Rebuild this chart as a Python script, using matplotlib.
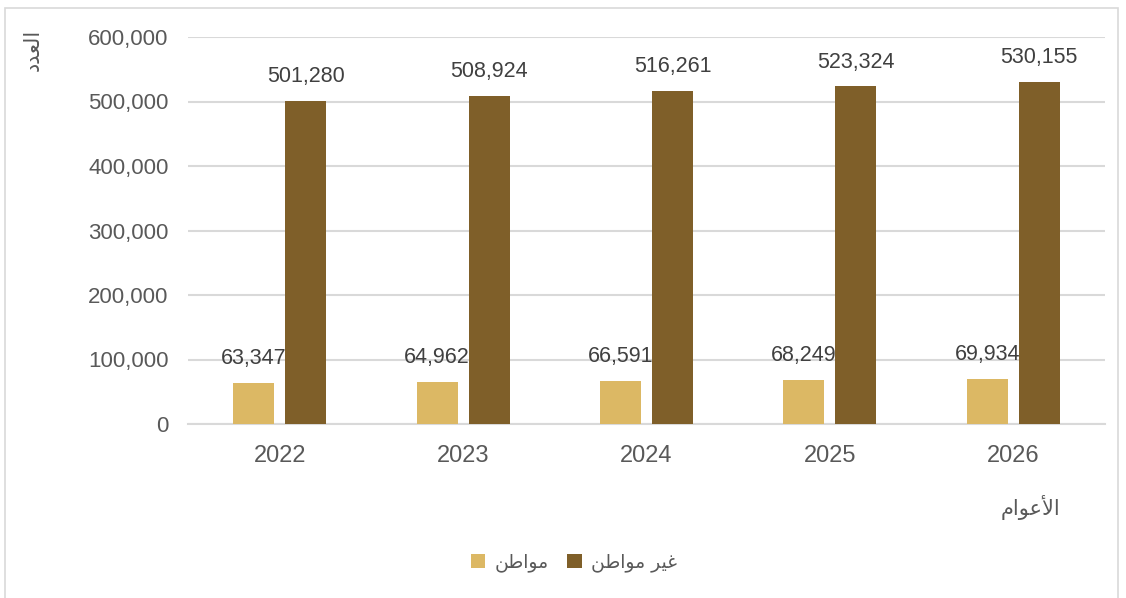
import matplotlib
matplotlib.use("Agg")
import matplotlib.pyplot as plt
from matplotlib.patches import Rectangle
import numpy as np

plt.rcParams['font.family'] = ['Liberation Sans', 'DejaVu Sans']

years = ['2022', '2023', '2024', '2025', '2026']
citizens = [63347, 64962, 66591, 68249, 69934]
non_citizens = [501280, 508924, 516261, 523324, 530155]
yticks = [0, 100000, 200000, 300000, 400000, 500000, 600000]

# Arabic labels in visual (shaped, left-to-right) order
lbl_citizen = '\ufee6\ufec3\ufe8d\ufeee\ufee3'          # مواطن
lbl_noncitizen = '\ufee6\ufec3\ufe8d\ufeee\ufee3 \ufeae\ufef4\ufecf'  # غير مواطن
lbl_x = '\ufee1\ufe8d\ufeee\ufecb\ufef7\ufe8d'           # الأعوام
lbl_y = '\ufea9\ufeaa\ufecc\ufedf\ufe8d'                 # العدد

c_light = '#DCB864'
c_dark = '#7F5F29'
txt = '#404040'
tick_c = '#595959'

fig = plt.figure(figsize=(11.26, 5.98), dpi=100)
ax = fig.add_axes([188/1126, 1-424/598, (1105-188)/1126, (424-37)/598])

x = np.arange(len(years))
w = 0.224
off = 0.142
b1 = ax.bar(x - off, citizens, w, color=c_light, zorder=3, label=lbl_citizen)
b2 = ax.bar(x + off, non_citizens, w, color=c_dark, zorder=3, label=lbl_noncitizen)

for rect, v in zip(b1, citizens):
    ax.annotate(f'{v:,}', (rect.get_x() + rect.get_width()/2, v), xytext=(0, 10),
                textcoords='offset points', ha='center', va='bottom', fontsize=15.5, color=txt, zorder=2)
for rect, v in zip(b2, non_citizens):
    ax.annotate(f'{v:,}', (rect.get_x() + rect.get_width()/2, v), xytext=(0, 10),
                textcoords='offset points', ha='center', va='bottom', fontsize=15.5, color=txt, zorder=4)

ax.set_xlim(-0.5, len(years) - 0.5)
ax.set_ylim(0, 600000)
ax.set_yticks(yticks)
ax.set_yticklabels([f'{v:,}' for v in yticks], fontsize=16, color=tick_c)
ax.set_xticks(x)
ax.set_xticklabels(years, fontsize=17, color=tick_c)
ax.tick_params(axis='both', length=0)
ax.tick_params(axis='x', pad=15)
ax.tick_params(axis='y', pad=14)
ax.yaxis.grid(True, color='#d9d9d9', linewidth=1.5, zorder=0)
for s in ['top', 'right', 'left']:
    ax.spines[s].set_visible(False)
ax.spines['bottom'].set_color('#d9d9d9')
ax.spines['bottom'].set_linewidth(1.5)

fig.text(1030/1126, 1-507/598, lbl_x, ha='center', va='center', fontsize=15, color=tick_c,
         family=['DejaVu Sans'])
fig.text(33/1126, 1-50/598, lbl_y, ha='center', va='center', fontsize=15, color=tick_c,
         rotation=90, family=['DejaVu Sans'])

leg = fig.legend(handles=[b1, b2], loc='center', bbox_to_anchor=(574/1126, 1-562/598), ncol=2,
                 frameon=False, handlelength=0.75, handleheight=0.75,
                 columnspacing=1.0, handletextpad=0.5, prop={'family': ['DejaVu Sans'], 'size': 13.5})
for t in leg.get_texts():
    t.set_color(tick_c)

fig.patches.append(Rectangle((5/1126, -0.05), (1118-5)/1126, 1.05 - 8/598, transform=fig.transFigure,
                             fill=False, edgecolor='#d9d9d9', linewidth=1.2))

fig.savefig('out.png', dpi=100)
